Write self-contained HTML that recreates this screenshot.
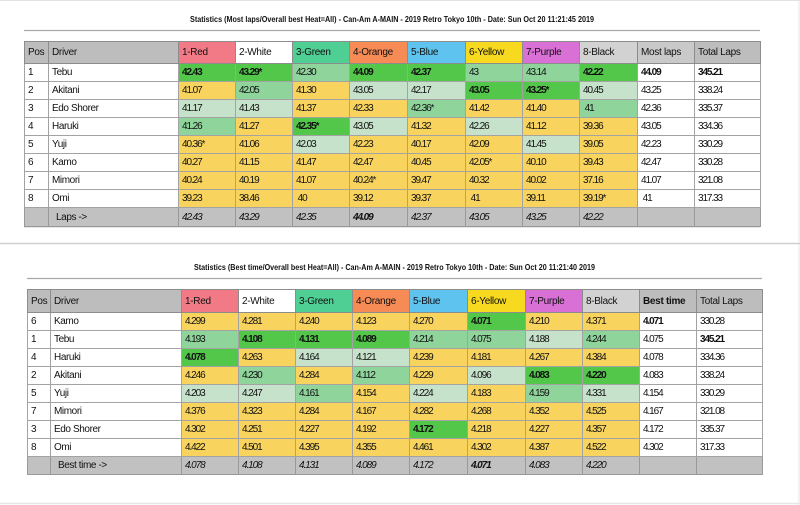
<!DOCTYPE html>
<html><head><meta charset="utf-8">
<style>
html,body{margin:0;padding:0;background:#fff;}
body{width:800px;height:505px;position:relative;overflow:hidden;font-family:"Liberation Sans",Arial,sans-serif;color:#111;}
.t{position:absolute;border-collapse:collapse;table-layout:fixed;font-size:10px;letter-spacing:-0.4px;}
.t td{border:1px solid #a3a3a3;padding:0 0 0 3px;white-space:nowrap;overflow:hidden;line-height:11px;vertical-align:middle;}
.t tr.h td{font-size:10px;letter-spacing:-0.3px;border-color:#8c8c8c;}
.n{letter-spacing:-1.1px;}
.g{background:#bdbdbd;}
.gl{background:#c9c9c9;}
.y{background:#f8d35e;}
.b{background:#52c74a;font-weight:bold;}
.m{background:#8fd49b;}
.p{background:#c6e2cb;}
.w{background:#fff;}
.bd{font-weight:bold;}
.ft td{background:#c1c1c1;border-color:#999;}
.ft td.n{font-style:italic;}
.hr{background:#f27a87;}
.hw{background:#fff;}
.hg{background:#4fcf93;}
.ho{background:#f68b55;}
.hb{background:#5ec4ef;}
.hy{background:#f7da20;}
.hp{background:#d970d6;}
.hk{background:#d2d2d2;}
</style></head><body>

<svg width="800" height="505" style="position:absolute;left:0;top:0" xmlns="http://www.w3.org/2000/svg">
  <line x1="0" y1="0.5" x2="800" y2="0.5" stroke="#e2e2e2" stroke-width="1"/>
  <line x1="799" y1="0" x2="799" y2="505" stroke="#e6e6e6" stroke-width="1"/>
  <line x1="0" y1="243.5" x2="800" y2="243.5" stroke="#cfcfcf" stroke-width="1.5"/>
  <line x1="0" y1="503.5" x2="800" y2="503.5" stroke="#e6e6e6" stroke-width="1.5"/>
  <line x1="24" y1="30.5" x2="760" y2="30.5" stroke="#a8a8a8" stroke-width="1.2"/>
  <line x1="27" y1="278.5" x2="762" y2="278.5" stroke="#a8a8a8" stroke-width="1.2"/>
  <line x1="24" y1="226.5" x2="760" y2="226.5" stroke="#9a9a9a" stroke-width="1.5"/>
  <text x="190" y="22" font-family="Liberation Sans, Arial, sans-serif" font-weight="bold" font-size="8.5" fill="#111" textLength="404" lengthAdjust="spacingAndGlyphs">Statistics (Most laps/Overall best Heat=All) - Can-Am A-MAIN - 2019 Retro Tokyo 10th - Date: Sun Oct 20 11:21:45 2019</text>
  <text x="194" y="270" font-family="Liberation Sans, Arial, sans-serif" font-weight="bold" font-size="8.5" fill="#111" textLength="401" lengthAdjust="spacingAndGlyphs">Statistics (Best time/Overall best Heat=All) - Can-Am A-MAIN - 2019 Retro Tokyo 10th - Date: Sun Oct 20 11:21:40 2019</text>
</svg>

<table class="t" style="left:24px;top:41px;width:736px;">
<colgroup><col style="width:24px"><col style="width:130px"><col style="width:57px"><col style="width:57px"><col style="width:57px"><col style="width:58px"><col style="width:58px"><col style="width:57px"><col style="width:57px"><col style="width:58px"><col style="width:57px"><col style="width:66px"></colgroup>
<tr class="h" style="height:22px"><td class="g">Pos</td><td class="g">Driver</td><td class="hr">1-Red</td><td class="hw">2-White</td><td class="hg">3-Green</td><td class="ho">4-Orange</td><td class="hb">5-Blue</td><td class="hy">6-Yellow</td><td class="hp">7-Purple</td><td class="hk">8-Black</td><td class="gl">Most laps</td><td class="g">Total Laps</td></tr>
<tr style="height:18px"><td>1</td><td>Tebu</td><td class="b n">42.43</td><td class="b n">43.29*</td><td class="m n">42.30</td><td class="b n">44.09</td><td class="b n">42.37</td><td class="m n">43</td><td class="m n">43.14</td><td class="b n">42.22</td><td class="w n bd">44.09</td><td class="w n bd">345.21</td></tr>
<tr style="height:18px"><td>2</td><td>Akitani</td><td class="y n">41.07</td><td class="m n">42.05</td><td class="y n">41.30</td><td class="p n">43.05</td><td class="p n">42.17</td><td class="b n">43.05</td><td class="b n">43.25*</td><td class="p n">40.45</td><td class="w n">43.25</td><td class="w n">338.24</td></tr>
<tr style="height:18px"><td>3</td><td>Edo Shorer</td><td class="p n">41.17</td><td class="p n">41.43</td><td class="y n">41.37</td><td class="y n">42.33</td><td class="m n">42.36*</td><td class="y n">41.42</td><td class="y n">41.40</td><td class="m n">&nbsp;41</td><td class="w n">42.36</td><td class="w n">335.37</td></tr>
<tr style="height:18px"><td>4</td><td>Haruki</td><td class="m n">41.26</td><td class="y n">41.27</td><td class="b n">42.35*</td><td class="p n">43.05</td><td class="y n">41.32</td><td class="p n">42.26</td><td class="y n">41.12</td><td class="y n">39.36</td><td class="w n">43.05</td><td class="w n">334.36</td></tr>
<tr style="height:18px"><td>5</td><td>Yuji</td><td class="y n">40.36*</td><td class="y n">41.06</td><td class="p n">42.03</td><td class="y n">42.23</td><td class="y n">40.17</td><td class="y n">42.09</td><td class="p n">41.45</td><td class="y n">39.05</td><td class="w n">42.23</td><td class="w n">330.29</td></tr>
<tr style="height:18px"><td>6</td><td>Kamo</td><td class="y n">40.27</td><td class="y n">41.15</td><td class="y n">41.47</td><td class="y n">42.47</td><td class="y n">40.45</td><td class="y n">42.05*</td><td class="y n">40.10</td><td class="y n">39.43</td><td class="w n">42.47</td><td class="w n">330.28</td></tr>
<tr style="height:18px"><td>7</td><td>Mimori</td><td class="y n">40.24</td><td class="y n">40.19</td><td class="y n">41.07</td><td class="y n">40.24*</td><td class="y n">39.47</td><td class="y n">40.32</td><td class="y n">40.02</td><td class="y n">37.16</td><td class="w n">41.07</td><td class="w n">321.08</td></tr>
<tr style="height:18px"><td>8</td><td>Omi</td><td class="y n">39.23</td><td class="y n">38.46</td><td class="y n">&nbsp;40</td><td class="y n">39.12</td><td class="y n">39.37</td><td class="y n">&nbsp;41</td><td class="y n">39.11</td><td class="y n">39.19*</td><td class="w n">&nbsp;41</td><td class="w n">317.33</td></tr>
<tr class="ft" style="height:19px"><td></td><td style="padding-left:7px">Laps -&gt;</td><td class="n">42.43</td><td class="n">43.29</td><td class="n">42.35</td><td class="n bd">44.09</td><td class="n">42.37</td><td class="n">43.05</td><td class="n">43.25</td><td class="n">42.22</td><td></td><td></td></tr>
</table>

<table class="t" style="left:27px;top:289px;width:735px;">
<colgroup><col style="width:23px"><col style="width:131px"><col style="width:57px"><col style="width:57px"><col style="width:57px"><col style="width:57px"><col style="width:58px"><col style="width:58px"><col style="width:57px"><col style="width:57px"><col style="width:57px"><col style="width:66px"></colgroup>
<tr class="h" style="height:23px"><td class="g">Pos</td><td class="g">Driver</td><td class="hr">1-Red</td><td class="hw">2-White</td><td class="hg">3-Green</td><td class="ho">4-Orange</td><td class="hb">5-Blue</td><td class="hy">6-Yellow</td><td class="hp">7-Purple</td><td class="hk">8-Black</td><td class="g bd">Best time</td><td class="g">Total Laps</td></tr>
<tr style="height:18px"><td>6</td><td>Kamo</td><td class="y n">4.299</td><td class="y n">4.281</td><td class="y n">4.240</td><td class="y n">4.123</td><td class="y n">4.270</td><td class="b n">4.071</td><td class="y n">4.210</td><td class="y n">4.371</td><td class="w n bd">4.071</td><td class="w n">330.28</td></tr>
<tr style="height:18px"><td>1</td><td>Tebu</td><td class="m n">4.193</td><td class="b n">4.108</td><td class="b n">4.131</td><td class="b n">4.089</td><td class="m n">4.214</td><td class="m n">4.075</td><td class="p n">4.188</td><td class="m n">4.244</td><td class="w n">4.075</td><td class="w n bd">345.21</td></tr>
<tr style="height:18px"><td>4</td><td>Haruki</td><td class="b n">4.078</td><td class="y n">4.263</td><td class="p n">4.164</td><td class="p n">4.121</td><td class="y n">4.239</td><td class="y n">4.181</td><td class="y n">4.267</td><td class="y n">4.384</td><td class="w n">4.078</td><td class="w n">334.36</td></tr>
<tr style="height:18px"><td>2</td><td>Akitani</td><td class="y n">4.246</td><td class="m n">4.230</td><td class="y n">4.284</td><td class="m n">4.112</td><td class="y n">4.229</td><td class="p n">4.096</td><td class="b n">4.083</td><td class="b n">4.220</td><td class="w n">4.083</td><td class="w n">338.24</td></tr>
<tr style="height:18px"><td>5</td><td>Yuji</td><td class="p n">4.203</td><td class="p n">4.247</td><td class="m n">4.161</td><td class="y n">4.154</td><td class="p n">4.224</td><td class="y n">4.183</td><td class="m n">4.159</td><td class="p n">4.331</td><td class="w n">4.154</td><td class="w n">330.29</td></tr>
<tr style="height:18px"><td>7</td><td>Mimori</td><td class="y n">4.376</td><td class="y n">4.323</td><td class="y n">4.284</td><td class="y n">4.167</td><td class="y n">4.282</td><td class="y n">4.268</td><td class="y n">4.352</td><td class="y n">4.525</td><td class="w n">4.167</td><td class="w n">321.08</td></tr>
<tr style="height:18px"><td>3</td><td>Edo Shorer</td><td class="y n">4.302</td><td class="y n">4.251</td><td class="y n">4.227</td><td class="y n">4.192</td><td class="b n">4.172</td><td class="y n">4.218</td><td class="y n">4.227</td><td class="y n">4.357</td><td class="w n">4.172</td><td class="w n">335.37</td></tr>
<tr style="height:18px"><td>8</td><td>Omi</td><td class="y n">4.422</td><td class="y n">4.501</td><td class="y n">4.395</td><td class="y n">4.355</td><td class="y n">4.461</td><td class="y n">4.302</td><td class="y n">4.387</td><td class="y n">4.522</td><td class="w n">4.302</td><td class="w n">317.33</td></tr>
<tr class="ft" style="height:18px"><td></td><td style="padding-left:7px">Best time -&gt;</td><td class="n">4.078</td><td class="n">4.108</td><td class="n">4.131</td><td class="n">4.089</td><td class="n">4.172</td><td class="n bd">4.071</td><td class="n">4.083</td><td class="n">4.220</td><td></td><td></td></tr>
</table>

</body></html>
